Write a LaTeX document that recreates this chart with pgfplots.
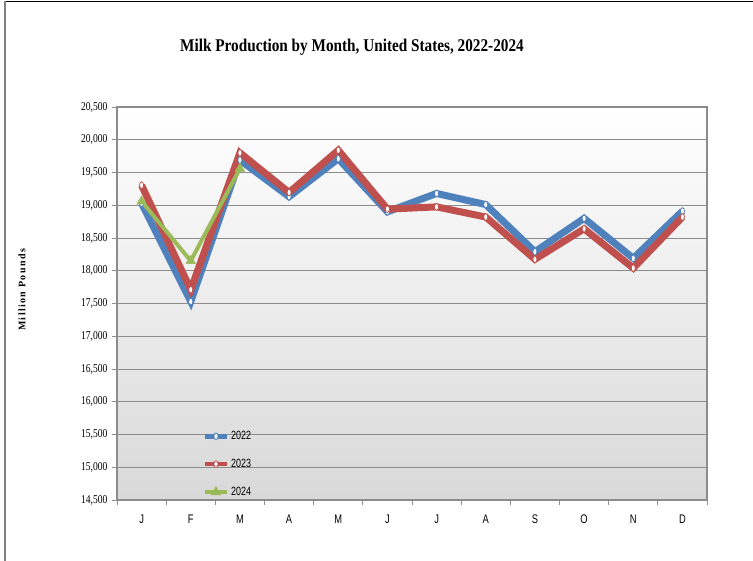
\documentclass[border=0pt]{standalone}
\usepackage{fontspec}
\usepackage{pgfplots}
\pgfplotsset{compat=1.18}
\setmainfont{Liberation Serif}
\newfontfamily\narrow[FakeStretch=0.75]{Liberation Sans}
\newfontfamily\narrowserif[FakeStretch=0.8]{Liberation Serif}
\newfontfamily\titlefont[FakeStretch=0.85]{Liberation Serif}
\newfontfamily\ylabfont[LetterSpace=14]{Liberation Serif}

\definecolor{c22}{HTML}{4F81BD}
\definecolor{c23}{HTML}{C0504D}
\definecolor{c24}{HTML}{9BBB59}
\definecolor{gridgray}{HTML}{8C8C8C}

\begin{document}
\begin{tikzpicture}[x=1bp,y=1bp]
\useasboundingbox (0,0) rectangle (753,561);
\draw[black, line width=1.5bp] (5,559.5) -- (753,559.5);
\draw[gray, line width=1.2bp] (5,0) -- (5,559.5);
\node[font={\titlefont\bfseries\fontsize{18}{20}\selectfont}] at (352,514)
  {Milk Production by Month, United States, 2022-2024};
\node[rotate=90, font={\ylabfont\bfseries\fontsize{10}{12}\selectfont}] at (22,271)
  {Million Pounds};
\begin{axis}[
    at={(117bp,61bp)}, anchor=south west,
    scale only axis,
    width=590bp, height=393bp,
    xmin=0.5, xmax=12.5,
    ymin=14500, ymax=20500,
    ytick={14500,15000,...,20500},
    xtick={1,...,12},
    xticklabels={J,F,M,A,M,J,J,A,S,O,N,D},
    minor xtick={0.5,1.5,...,12.5},
    major x tick style={draw=none},
    tick pos=left,
    tick align=outside,
    major tick length=5bp,
    minor tick length=5bp,
    tick style={gridgray, line width=0.8bp},
    ymajorgrids,
    grid style={gridgray, line width=0.9bp},
    axis line style={gridgray, line width=1.3bp},
    axis background/.style={top color=white, bottom color=black!15},
    /pgf/number format/assume math mode=true,
    /pgf/number format/1000 sep={,},
    scaled y ticks=false,
    yticklabel style={font={\narrowserif\fontsize{12}{13}\selectfont}, xshift=-1bp},
    xticklabel style={font={\narrow\fontsize{12.5}{13}\selectfont}, yshift=-6bp},
    legend style={at={(rel axis cs:0.145,0.18)}, anchor=north west,
        draw=none, fill=none, font={\narrow\fontsize{12}{13}\selectfont},
        row sep=14bp, inner sep=0pt},
    legend cell align=left,
    legend image code/.code={\draw[mark repeat=2,mark phase=2,line width=4.5bp]
        plot coordinates {(0bp,0bp) (11bp,0bp) (22bp,0bp)};},
]
\addplot[c22, line width=7bp, mark=*, mark size=3.4bp,
    mark options={fill=white, draw=c22, line width=0.8bp, xscale=0.6}]
  coordinates {(1,19030) (2,17530) (3,19690) (4,19130) (5,19710) (6,18900)
               (7,19180) (8,19010) (9,18290) (10,18800) (11,18190) (12,18910)};
\addlegendentry{2022}
\addplot[c23, line width=7bp, mark=*, mark size=3.4bp,
    mark options={fill=white, draw=c23, line width=0.8bp, xscale=0.6}]
  coordinates {(1,19305) (2,17710) (3,19800) (4,19195) (5,19840) (6,18940)
               (7,18975) (8,18820) (9,18175) (10,18640) (11,18040) (12,18820)};
\addlegendentry{2023}
\addplot[c24, line width=4bp, mark=triangle*, mark size=5.5bp,
    mark options={fill=c24, draw=c24, line width=0.5bp}]
  coordinates {(1,19060) (2,18150) (3,19560)};
\addlegendentry{2024}
\end{axis}
\end{tikzpicture}
\end{document}
